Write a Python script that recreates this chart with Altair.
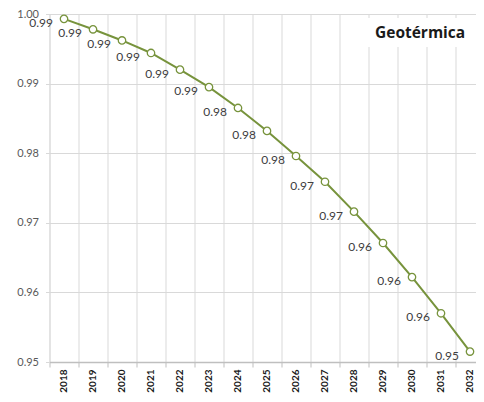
import altair as alt
import pandas as pd

years = [2018, 2019, 2020, 2021, 2022, 2023, 2024, 2025,
         2026, 2027, 2028, 2029, 2030, 2031, 2032]
values = [0.9993, 0.9978, 0.9962, 0.9944, 0.9920, 0.9895, 0.9865, 0.9832,
          0.9796, 0.9759, 0.9716, 0.9671, 0.9622, 0.9570, 0.9515]
point_labels = ["0.99", "0.99", "0.99", "0.99", "0.99", "0.99", "0.98", "0.98",
                "0.98", "0.97", "0.97", "0.96", "0.96", "0.96", "0.95"]
y_ticks = [0.95, 0.96, 0.97, 0.98, 0.99, 1.00]
title_text = ["Geotérmica"]

OLIVE = "#77933C"
GRID = "#d9d9d9"
FONT = "Lato"

df = pd.DataFrame({"year": years, "value": values, "label": point_labels})

# category boundaries (ticks + grid) and category centres (labels)
x_tick_values = [y - 0.5 for y in years] + years
is_boundary = "datum.value % 1 != 0"

x = alt.X(
    "year:Q",
    scale=alt.Scale(domain=[years[0] - 0.5, years[-1] + 0.207], nice=False, zero=False),
    axis=alt.Axis(
        title=None, values=x_tick_values, labelAngle=270,
        labelExpr="datum.value % 1 == 0 ? format(datum.value, 'd') : ''",
        grid=True, gridColor=GRID,
        gridOpacity={"condition": {"test": is_boundary, "value": 1}, "value": 0},
        tickOpacity={"condition": {"test": is_boundary, "value": 1}, "value": 0},
        tickColor="#bfbfbf", tickSize=5, domainColor="#bfbfbf", domainWidth=1.5,
        labelFont=FONT, labelFontSize=10, labelFontWeight="bold",
        labelColor="#1a1a1a", labelPadding=2, labelOverlap=False,
        labelFlush=False, labelBound=False,
    ),
)
y = alt.Y(
    "value:Q",
    scale=alt.Scale(domain=[0.95, 1.0], nice=False, zero=False),
    axis=alt.Axis(
        title=None, values=y_ticks, format=".2f", domain=False, tickSize=4,
        tickColor=GRID, gridColor=GRID, labelColor="#595959", labelFont=FONT,
        labelFontSize=11, labelPadding=7,
    ),
)

base = alt.Chart(df).encode(x=x, y=y)
line = base.mark_line(color=OLIVE, strokeWidth=2)
pts = base.mark_point(filled=True, fill="white", stroke=OLIVE, strokeWidth=1.3,
                      size=55, opacity=1)
txt = base.mark_text(align="right", baseline="middle", dx=-11, dy=4,
                     font=FONT, fontSize=12, color="#404040").encode(text="label:N")

tdf = pd.DataFrame({"t": title_text})
box = alt.Chart(tdf).mark_rect(color="white").encode(
    x=alt.value(316), x2=alt.value(430), y=alt.value(4), y2=alt.value(33))
ttl = alt.Chart(tdf).mark_text(align="left", baseline="alphabetic", font="Open Sans",
                               fontSize=15.5, fontWeight="bold", color="#1a1a1a").encode(
    x=alt.value(325.5), y=alt.value(24), text="t:N")

chart = alt.layer(line, pts, txt, box, ttl).properties(
    width=426.5, height=348,
    autosize=alt.AutoSizeParams(type="none"),
    padding={"left": 41.5, "top": 6, "right": 0, "bottom": 32},
).configure_view(stroke=None).configure(font=FONT)

chart.save("out.html", embed_options={"renderer": "svg", "actions": False})
